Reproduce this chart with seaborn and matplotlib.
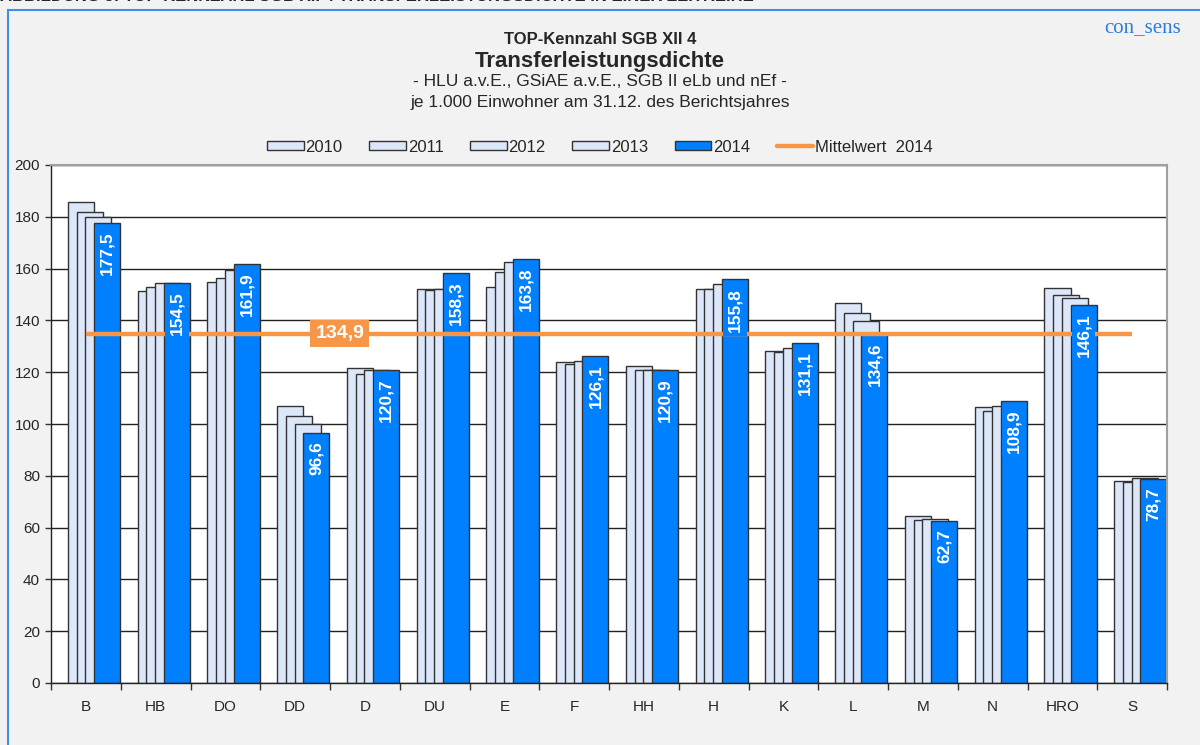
import matplotlib
matplotlib.use("Agg")
import matplotlib.pyplot as plt
import seaborn as sns
from matplotlib.patches import Patch, Rectangle
from matplotlib.lines import Line2D

# Data (2010 has no visible bars)
cities = ["B", "HB", "DO", "DD", "D", "DU", "E", "F", "HH", "H", "K", "L", "M", "N", "HRO", "S"]
v2011 = [185.8, 151.5, 154.8, 106.9, 121.8, 152.3, 153.0, 123.8, 122.5, 152.0, 128.3, 146.8, 64.6, 106.4, 152.5, 77.9]
v2012 = [182.0, 153.0, 156.5, 103.1, 119.2, 151.9, 158.8, 123.0, 121.0, 152.0, 127.7, 143.0, 62.8, 105.1, 149.7, 77.5]
v2013 = [180.0, 154.4, 159.3, 100.1, 121.0, 152.0, 162.7, 124.5, 121.0, 154.1, 129.2, 139.9, 63.2, 106.9, 148.6, 79.3]
v2014 = [177.5, 154.5, 161.9, 96.6, 120.7, 158.3, 163.8, 126.1, 120.9, 155.8, 131.1, 134.6, 62.7, 108.9, 146.1, 78.7]
mean_2014 = 134.9
legend_years = ["2010", "2011", "2012", "2013", "2014"]

light = "#dde7fa"
blue = "#0080ff"
orange = "#f79646"
edge = "#333333"

sns.set_style("white")
plt.rcParams["font.family"] = ["Liberation Sans", "DejaVu Sans"]

fig = plt.figure(figsize=(12, 7.45), dpi=100, facecolor="#f2f2f2")
ax = fig.add_axes([51 / 1200, 62 / 745, 1116 / 1200, 518 / 745])
ax.set_facecolor("white")

# overlapping bars: each series shifted inside its category
bar_w = 0.373
series = [(v2011, light, -0.07), (v2012, light, 0.055), (v2013, light, 0.18), (v2014, blue, 0.305)]
for vals, color, off in series:
    n = len(ax.patches)
    sns.barplot(x=cities, y=vals, color=color, saturation=1, width=bar_w,
                edgecolor=edge, linewidth=1, errorbar=None, ax=ax)
    for p in ax.patches[n:]:
        p.set_x(p.get_x() + off)

# value labels on 2014 bars
for i, v in enumerate(v2014):
    ax.text(i + 0.305, v - 3.2, f"{v:.1f}".replace(".", ","), rotation=90,
            ha="center", va="top", color="white", fontweight="bold", fontsize=12.5,
            bbox=dict(boxstyle="square,pad=0.25", fc=blue, ec="none"), zorder=6)

# mean line
ax.hlines(mean_2014, 0, len(cities) - 1, color=orange, lw=3.2, zorder=5)
ax.text(3.64, mean_2014, f"{mean_2014:.1f}".replace(".", ","), ha="center", va="center",
        color="white", fontweight="bold", fontsize=14,
        bbox=dict(boxstyle="square,pad=0.25", fc=orange, ec="none"), zorder=7)

ax.set_ylim(0, 200)
ax.set_xlim(-0.5, len(cities) - 0.5)
ax.set_yticks(range(0, 201, 20))
ax.set_axisbelow(True)
ax.yaxis.grid(True, color="#222222", lw=1)
ax.set_xlabel("")
ax.set_ylabel("")
ax.tick_params(axis="y", left=True, length=4, width=1, labelsize=11, pad=4, color="#333333")
ax.tick_params(axis="x", which="major", length=0, labelsize=11, pad=12)
ax.set_xticks([i - 0.5 for i in range(len(cities) + 1)], minor=True)
ax.tick_params(axis="x", which="minor", bottom=True, length=5, width=1, color="#333333")
for s in ["left", "bottom"]:
    ax.spines[s].set_color("#222222")
    ax.spines[s].set_linewidth(1)
for s in ["top", "right"]:
    ax.spines[s].set_color("#a0a0a0")
    ax.spines[s].set_linewidth(1.5)

# legend
handles = [Patch(fc=light, ec=edge, lw=1) for _ in legend_years[:-1]]
handles.append(Patch(fc=blue, ec=edge, lw=1))
handles.append(Line2D([0], [0], color=orange, lw=3.2))
labels = legend_years + ["Mittelwert  2014"]
fig.legend(handles, labels, loc="center", bbox_to_anchor=(0.5, 1 - 147 / 745), ncol=6,
           frameon=False, fontsize=12, handlelength=2.2, handleheight=0.45,
           handletextpad=0.1, columnspacing=1.6)

# titles
fig.text(0.5, 1 - 40 / 745, "TOP-Kennzahl SGB XII 4", ha="center", va="center",
         fontsize=12, fontweight="bold")
fig.text(0.5, 1 - 61 / 745, "Transferleistungsdichte", ha="center", va="center",
         fontsize=16, fontweight="bold")
fig.text(0.5, 1 - 82 / 745, "- HLU a.v.E., GSiAE a.v.E., SGB II eLb und nEf -",
         ha="center", va="center", fontsize=12.5)
fig.text(0.5, 1 - 103 / 745, "je 1.000 Einwohner am 31.12. des Berichtsjahres",
         ha="center", va="center", fontsize=12.5)
fig.text(1143 / 1200, 1 - 28 / 745, "con_sens", ha="center", va="center",
         fontsize=15, color="#2a7de1", family=["Liberation Serif", "DejaVu Serif"])
fig.text(0.0, 1 + 4 / 745, "ABBILDUNG 3: TOP-KENNZAHL SGB XII 4 TRANSFERLEISTUNGSDICHTE IN EINER ZEITREIHE",
         ha="left", va="center", fontsize=12, fontweight="bold")

# outer frame
fig.add_artist(Rectangle((8 / 1200, -0.1), 1.5, 1.1 - 10 / 745, transform=fig.transFigure,
                         fill=False, ec="#3c8ee6", lw=1.5))

fig.savefig("out.png", dpi=100, facecolor=fig.get_facecolor())
